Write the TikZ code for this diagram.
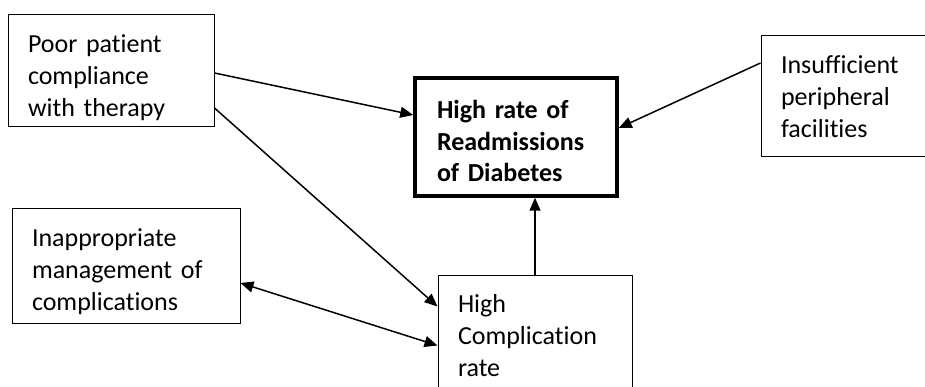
\documentclass[tikz,border=0pt]{standalone}
\usepackage{fontspec}
\setmainfont{Carlito}[Ligatures=NoCommon, WordSpace={0.85,0,0}]
\usetikzlibrary{arrows.meta}

\begin{document}
\begin{tikzpicture}[x=1pt,y=-1pt,
  box/.style={draw, line width=1pt, align=left, inner xsep=20pt, inner ysep=0pt, text height=37.5pt, font=\fontsize{26}{32}\selectfont},
  link/.style={line width=1.5pt, -{Triangle[length=13pt,width=11pt]}},
  twoway/.style={link, {Triangle[length=13pt,width=11pt]}-{Triangle[length=13pt,width=11pt]}}]

\clip (0,0) rectangle (925,387);

\node [box, text width=166pt, text depth=74.5pt] (poor) at (111,71) {Poor patient\\compliance\\with therapy};
\node [box, line width=3.5pt, inner xsep=22pt, text width=158pt, text height=41pt, text depth=77pt, font=\fontsize{26}{31.5}\selectfont\bfseries] (main) at (516,137) {High rate of\\Readmissions\\of Diabetes};
\node [box, text width=140pt, text depth=83.5pt] (fac) at (851,96.5) {Insufficient\\peripheral\\facilities};
\node [box, text width=188pt, text depth=76.5pt] (inap) at (126,266) {Inappropriate\\management of\\complications};
\node [box, text width=154pt, text depth=84.5pt] (high) at (535,336) {High\\Complication\\rate};

\draw [link] ([yshift=-2pt]poor.east) -- ([yshift=22pt]main.west);
\draw [link] ([yshift=-37pt]poor.east) -- ([yshift=-32pt]high.north west);
\draw [twoway] ([yshift=-17pt]inap.east) -- ([yshift=-71pt]high.north west);
\draw [link] (high.north) -- (high.north |- main.south);
\draw [link] ([yshift=33.5pt]fac.west) -- ([yshift=9pt]main.east);

\end{tikzpicture}
\end{document}
